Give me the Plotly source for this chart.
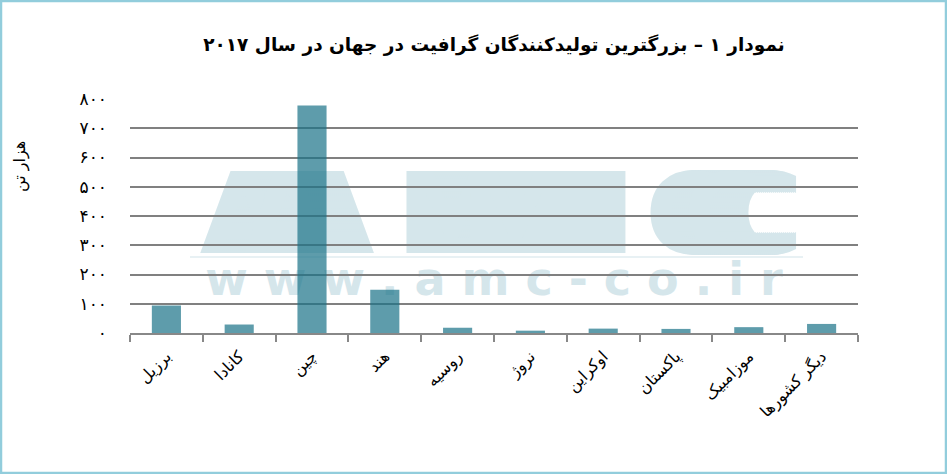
import plotly.graph_objects as go

countries = ["برزیل", "کانادا", "چین", "هند", "روسیه", "نروژ", "اوکراین", "پاکستان", "موزامبیک", "دیگر کشورها"]
production = [94, 29, 778, 148, 18, 8, 15, 14, 20, 31]
y_tickvals = [0, 100, 200, 300, 400, 500, 600, 700, 800]
y_ticktext = ["۰", "۱۰۰", "۲۰۰", "۳۰۰", "۴۰۰", "۵۰۰", "۶۰۰", "۷۰۰", "۸۰۰"]
title_text = "نمودار ۱ – بزرگترین تولیدکنندگان گرافیت در جهان در سال ۲۰۱۷"
y_title = "هزار تن"
wm_letters = ["A", "M", "C"]
wm_url = "\u00a0".join("www.amc-co.ir")

W, H = 947, 474
ML, MR, MT, MB = 130, 89, 99, 141
PW, PH = W - ML - MR, H - MT - MB

def px_x(p):
    return (p - ML) / PW

def px_y(p):
    return (H - MB - p) / PH

fig = go.Figure()
fig.add_trace(go.Bar(
    x=countries, y=production,
    marker=dict(color="rgba(26,114,135,0.70)", line=dict(width=0)),
    width=0.4,
))

wm_color = "rgb(213,230,235)"

def smear(r, step=2):
    return ", ".join(f"{dx}px 0px 0px {wm_color}" for dx in range(-r, r + 1, step) if dx != 0)

shapes = []
centers = [287, 516, 724]
spreads = [44, 64, 38]
for letter, cx, sp in zip(wm_letters, centers, spreads):
    shapes.append(dict(
        type="rect", xref="paper", yref="paper", layer="below",
        x0=px_x(cx - 100), x1=px_x(cx + 100), y0=px_y(245), y1=px_y(166),
        line=dict(width=0), fillcolor="rgba(0,0,0,0)",
        label=dict(text=letter, textposition="middle center",
                   font=dict(family="DejaVu Sans", size=112, color=wm_color, weight="bold",
                             shadow=smear(sp))),
    ))
shapes.append(dict(
    type="line", xref="paper", yref="paper", layer="below",
    x0=px_x(190), x1=px_x(803), y0=px_y(257), y1=px_y(257),
    line=dict(color="rgb(232,241,244)", width=2),
))
shapes.append(dict(
    type="rect", xref="paper", yref="paper", layer="below",
    x0=px_x(194), x1=px_x(794), y0=px_y(290), y1=px_y(262),
    line=dict(width=0), fillcolor="rgba(0,0,0,0)",
    label=dict(text=wm_url, textposition="middle center",
               font=dict(family="DejaVu Sans", size=46, color=wm_color, weight="bold")),
))
shapes.append(dict(
    type="rect", xref="paper", yref="paper", layer="above",
    x0=px_x(1), x1=px_x(W - 1), y0=px_y(H - 1), y1=px_y(1),
    line=dict(color="rgb(146,205,220)", width=2.5), fillcolor="rgba(0,0,0,0)",
))

fig.update_layout(
    width=W, height=H,
    margin=dict(l=ML, r=MR, t=MT, b=MB, autoexpand=False),
    paper_bgcolor="white", plot_bgcolor="rgba(0,0,0,0)",
    showlegend=False,
    font=dict(family="DejaVu Sans", color="black"),
    title=dict(text="<b>" + title_text + "</b>", x=0.5, xref="paper", xanchor="center",
               y=1 - 45 / H, yref="container", yanchor="middle",
               font=dict(size=18.5, family="DejaVu Sans", color="black")),
    shapes=shapes,
    annotations=[dict(
        text=y_title, xref="paper", yref="paper", x=px_x(20), y=px_y(167),
        textangle=-90, showarrow=False, font=dict(size=16, color="black"),
        xanchor="center", yanchor="middle",
    )],
    bargap=0.6,
)
fig.update_xaxes(
    type="category", showline=True, linecolor="#888888", linewidth=1.5,
    ticks="outside", tickson="boundaries", ticklen=7, tickcolor="#888888", tickwidth=1.5,
    tickangle=-45, tickfont=dict(size=16, color="black"), showgrid=False,
    ticklabelstandoff=6,
)
fig.update_yaxes(
    range=[0, 800], tickvals=y_tickvals, ticktext=y_ticktext,
    showgrid=True, gridcolor="#808080", gridwidth=1.5, zeroline=False, showline=False,
    ticks="", ticklabelstandoff=22, tickfont=dict(size=17, color="black"),
)

fig.write_html("out.html", config={"displayModeBar": False},
               post_script="document.body.style.margin='0';document.body.style.overflow='hidden';")
